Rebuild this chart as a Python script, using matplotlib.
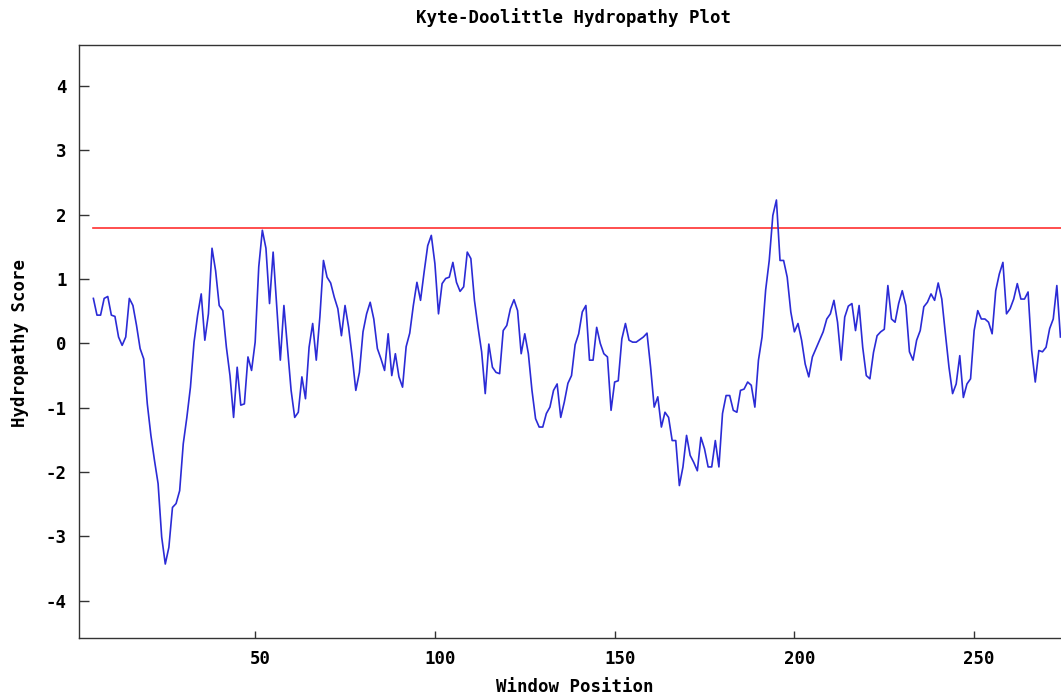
import matplotlib
matplotlib.use('Agg')
import matplotlib.pyplot as plt
import numpy as np
from matplotlib.transforms import ScaledTranslation

# ---- data ----
first_position = 5
scores = [
    0.70, 0.44, 0.44, 0.70, 0.73, 0.44, 0.42, 0.10, -0.03, 0.10,
    0.70, 0.59, 0.28, -0.08, -0.24, -0.94, -1.43, -1.82, -2.18, -3.01,
    -3.43, -3.17, -2.55, -2.49, -2.29, -1.56, -1.15, -0.68, 0.02, 0.44,
    0.77, 0.05, 0.46, 1.48, 1.13, 0.59, 0.51, -0.06, -0.50, -1.15,
    -0.37, -0.96, -0.94, -0.21, -0.42, 0.02, 1.19, 1.76, 1.48, 0.62,
    1.42, 0.57, -0.26, 0.59, -0.06, -0.73, -1.15, -1.07, -0.52, -0.86,
    -0.06, 0.31, -0.26, 0.41, 1.29, 1.03, 0.94, 0.72, 0.54, 0.12,
    0.59, 0.25, -0.21, -0.73, -0.45, 0.18, 0.46, 0.64, 0.38, -0.08,
    -0.24, -0.42, 0.15, -0.50, -0.16, -0.52, -0.68, -0.05, 0.16, 0.59,
    0.95, 0.67, 1.11, 1.52, 1.68, 1.24, 0.46, 0.93, 1.01, 1.03,
    1.26, 0.95, 0.81, 0.88, 1.42, 1.32, 0.67, 0.25, -0.13, -0.78,
    -0.01, -0.37, -0.45, -0.47, 0.20, 0.28, 0.54, 0.68, 0.51, -0.16,
    0.15, -0.16, -0.73, -1.17, -1.30, -1.30, -1.09, -0.99, -0.73, -0.63,
    -1.15, -0.91, -0.62, -0.50, -0.02, 0.15, 0.49, 0.59, -0.26, -0.26,
    0.25, 0.00, -0.16, -0.21, -1.04, -0.60, -0.58, 0.07, 0.31, 0.05,
    0.02, 0.02, 0.06, 0.10, 0.16, -0.37, -0.99, -0.83, -1.30, -1.07,
    -1.15, -1.51, -1.51, -2.21, -1.92, -1.43, -1.74, -1.85, -1.98, -1.46,
    -1.64, -1.92, -1.92, -1.51, -1.92, -1.09, -0.81, -0.81, -1.04, -1.07,
    -0.73, -0.71, -0.60, -0.65, -0.99, -0.26, 0.10, 0.83, 1.29, 1.99,
    2.23, 1.29, 1.29, 1.03, 0.49, 0.18, 0.31, 0.05, -0.32, -0.52,
    -0.21, -0.08, 0.05, 0.18, 0.38, 0.46, 0.67, 0.33, -0.26, 0.41,
    0.58, 0.62, 0.20, 0.59, -0.06, -0.50, -0.55, -0.14, 0.12, 0.18,
    0.22, 0.90, 0.38, 0.33, 0.62, 0.82, 0.59, -0.13, -0.26, 0.05,
    0.20, 0.57, 0.64, 0.77, 0.67, 0.94, 0.69, 0.15, -0.37, -0.78,
    -0.63, -0.19, -0.84, -0.63, -0.55, 0.20, 0.51, 0.38, 0.38, 0.33,
    0.15, 0.82, 1.08, 1.26, 0.46, 0.54, 0.69, 0.93, 0.69, 0.69,
    0.80, -0.11, -0.60, -0.11, -0.13, -0.06, 0.23, 0.38, 0.90, 0.10,
]
positions = np.arange(first_position, first_position + len(scores))
threshold = 1.8
x_ticks = [50, 100, 150, 200, 250]
y_ticks = [-4, -3, -2, -1, 0, 1, 2, 3, 4]
title = 'Kyte-Doolittle Hydropathy Plot'
x_label = 'Window Position'
y_label = 'Hydropathy Score'

# ---- style ----
plt.rcParams['font.family'] = ['DejaVu Sans Mono']
plt.rcParams['font.weight'] = 'bold'
plt.rcParams['axes.unicode_minus'] = False

FS = 12.5
W, H = 1061, 698
fig = plt.figure(figsize=(W / 100, H / 100), dpi=100)
ax = fig.add_axes([79 / W, 60 / H, 1003 / W, 593 / H])

ax.plot(positions, scores, color='#2b2bd6', lw=1.2, zorder=3)
ax.plot([positions[0], positions[-1] + 10], [threshold, threshold],
        color='#ff3030', lw=1.2, zorder=2)

ax.set_xlim(1, 280)
ax.set_ylim(-4.58, 4.64)
ax.set_xticks(x_ticks)
ax.set_yticks(y_ticks)
ax.tick_params(axis='both', direction='in', width=1, color='#333333',
               labelsize=FS, labelcolor='black')
ax.tick_params(axis='y', length=7, pad=9)
ax.tick_params(axis='x', length=5, pad=9)
for lab in ax.get_xticklabels():
    lab.set_transform(lab.get_transform() + ScaledTranslation(0.05, 0, fig.dpi_scale_trans))
for sp in ax.spines.values():
    sp.set_color('#333333')
    sp.set_linewidth(1.0)

fig.text(573 / W, 1 - 18 / H, title, ha='center', va='center', fontsize=FS, fontweight='bold')
fig.text(575 / W, 1 - 687 / H, x_label, ha='center', va='center', fontsize=FS, fontweight='bold')
fig.text(20 / W, 1 - 343 / H, y_label, ha='center', va='center', rotation=90,
         fontsize=FS, fontweight='bold')

fig.savefig('out.png', dpi=100)
